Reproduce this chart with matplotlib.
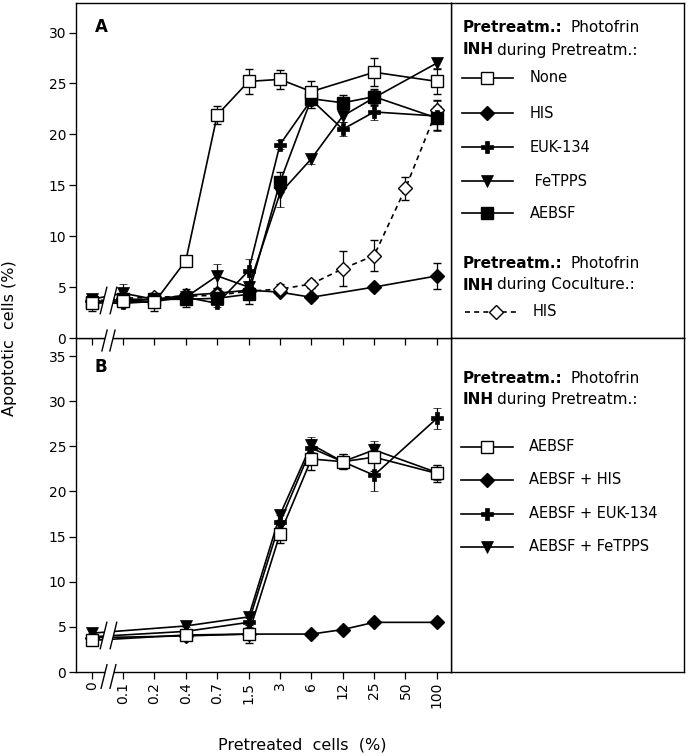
import numpy as np
import matplotlib
matplotlib.use("Agg")
import matplotlib.pyplot as plt
from matplotlib.path import Path
from matplotlib.markers import MarkerStyle

plt.rcParams['font.family'] = ['DejaVu Sans']

# ---------------- data ----------------
xcats = ['0', '0.1', '0.2', '0.4', '0.7', '1.5', '3', '6', '12', '25', '50', '100']

# Panel A
a_none_x = ['0', '0.1', '0.2', '0.4', '0.7', '1.5', '3', '6', '25', '100']
a_none_y = [3.4, 3.6, 3.5, 7.6, 21.9, 25.2, 25.4, 24.2, 26.1, 25.2]
a_none_e = [0.7, 0.5, 0.8, 0.4, 0.9, 1.2, 0.9, 1.0, 1.4, 1.2]

a_his_x = ['0', '0.1', '0.2', '0.4', '0.7', '1.5', '3', '6', '25', '100']
a_his_y = [3.6, 3.6, 3.8, 4.2, 4.4, 4.7, 4.5, 4.0, 5.0, 6.1]
a_his_e = [0.5, 0.6, 0.5, 0.6, 0.5, 0.6, 0.3, 0.3, 0.3, 1.3]

a_euk_x = ['0', '0.1', '0.2', '0.4', '0.7', '1.5', '3', '6', '12', '25', '100']
a_euk_y = [3.5, 3.4, 3.6, 4.0, 3.4, 6.6, 19.0, 23.4, 20.5, 22.2, 21.8]
a_euk_e = [0.5, 0.4, 0.4, 0.5, 0.4, 1.2, 0.4, 0.8, 0.7, 0.8, 1.5]

a_fet_x = ['0', '0.1', '0.2', '0.4', '0.7', '1.5', '3', '6', '12', '25', '100']
a_fet_y = [3.8, 4.4, 3.8, 4.0, 6.1, 5.0, 14.2, 17.6, 21.8, 23.6, 27.0]
a_fet_e = [0.5, 0.9, 0.5, 0.5, 1.2, 0.6, 1.3, 0.5, 0.6, 0.8, 0.5]

a_aeb_x = ['0', '0.1', '0.2', '0.4', '0.7', '1.5', '3', '6', '12', '25', '100']
a_aeb_y = [3.5, 3.8, 3.8, 3.8, 3.9, 4.3, 15.3, 23.5, 23.1, 23.7, 21.6]
a_aeb_e = [0.5, 0.5, 0.5, 0.8, 0.5, 1.0, 1.0, 0.9, 0.8, 0.8, 1.2]

a_coc_x = ['0', '0.1', '0.2', '0.4', '0.7', '1.5', '3', '6', '12', '25', '50', '100']
a_coc_y = [3.6, 3.9, 4.0, 4.1, 4.2, 4.6, 4.8, 5.3, 6.8, 8.1, 14.7, 22.4]
a_coc_e = [0.4, 0.4, 0.4, 0.4, 0.4, 0.5, 0.5, 0.4, 1.7, 1.5, 1.1, 1.0]

# Panel B
b_x = ['0', '0.4', '1.5', '3', '6', '12', '25', '100']
b_aeb_y = [3.5, 4.1, 4.2, 15.3, 23.6, 23.3, 23.8, 22.0]
b_aeb_e = [0.5, 0.4, 1.0, 1.0, 1.2, 0.8, 1.5, 0.9]

b_his_x = ['0', '0.4', '1.5', '6', '12', '25', '100']
b_his_y = [3.8, 4.0, 4.2, 4.2, 4.7, 5.5, 5.5]
b_his_e = [0.3, 0.3, 0.3, 0.3, 0.3, 0.3, 0.3]

b_euk_y = [3.9, 4.5, 5.5, 16.6, 24.8, 23.3, 21.8, 28.1]
b_euk_e = [0.4, 0.5, 0.5, 0.8, 1.0, 0.8, 1.7, 1.2]

b_fet_y = [4.3, 5.1, 6.1, 17.4, 25.2, 23.3, 24.6, 22.1]
b_fet_e = [0.4, 0.4, 0.4, 0.6, 0.8, 0.8, 1.0, 0.8]

legend_a1 = ['None', 'HIS', 'EUK-134', ' FeTPPS', 'AEBSF']
legend_a2 = ['HIS']
legend_b = ['AEBSF', 'AEBSF + HIS', 'AEBSF + EUK-134', 'AEBSF + FeTPPS']

# ---------------- figure ----------------
W, H = 688, 756
fig = plt.figure(figsize=(W / 100, H / 100), dpi=100)


def fr(x0, y0, x1, y1):
    return [x0 / W, 1 - y1 / H, (x1 - x0) / W, (y1 - y0) / H]


axB = fig.add_axes(fr(76, 338, 451, 672))
axA = fig.add_axes(fr(76, 3, 451, 338))
axA.set_zorder(3)
axB.set_zorder(1)

pos = {c: i for i, c in enumerate(xcats)}


def xp(labels):
    return [pos[c] for c in labels]


styles = {
    'none': dict(marker='s', ms=8, mfc='white', mec='black', mew=1.0),
    'his': dict(marker='D', ms=7.5, mfc='black', mec='black', mew=1.0),
    'euk': dict(marker='P', ms=9, mfc='black', mec='black', mew=0.5),
    'fet': dict(marker='v', ms=9, mfc='black', mec='black', mew=0.5),
    'aeb': dict(marker='s', ms=8, mfc='black', mec='black', mew=1.0),
    'coc': dict(marker='D', ms=7.5, mfc='white', mec='black', mew=1.0),
}
eb_kw = dict(ecolor='black', elinewidth=0.9, capsize=3.2, capthick=0.9, color='black', lw=1.2)


def series(ax, xl, y, e, st, ls='-'):
    ax.errorbar(xp(xl), y, yerr=e, linestyle=ls, **styles[st], **eb_kw)


series(axA, a_his_x, a_his_y, a_his_e, 'his')
series(axA, a_coc_x, a_coc_y, a_coc_e, 'coc', ls=(0, (3, 2.5)))
series(axA, a_euk_x, a_euk_y, a_euk_e, 'euk')
series(axA, a_fet_x, a_fet_y, a_fet_e, 'fet')
series(axA, a_aeb_x, a_aeb_y, a_aeb_e, 'aeb')
series(axA, a_none_x, a_none_y, a_none_e, 'none')

series(axB, b_his_x, b_his_y, b_his_e, 'his')
series(axB, b_x, b_euk_y, b_euk_e, 'euk')
series(axB, b_x, b_fet_y, b_fet_e, 'fet')
series(axB, b_x, b_aeb_y, b_aeb_e, 'none')

for ax, ymax, yt in ((axA, 32.9, np.arange(0, 31, 5)), (axB, 37.0, np.arange(0, 36, 5))):
    ax.set_xlim(-0.5, 11.45)
    ax.set_ylim(0, ymax)
    ax.set_yticks(yt)
    ax.set_xticks(range(len(xcats)))
    ax.tick_params(direction='out', length=5, width=0.9, labelsize=10, pad=2)
    for s in ax.spines.values():
        s.set_linewidth(1.0)

axA.set_xticklabels([])
axB.set_xticklabels(xcats, rotation=90)

axA.text(0.05, 0.955, 'A', transform=axA.transAxes, fontsize=12, fontweight='bold', va='top', ha='left')
axB.text(0.05, 0.94, 'B', transform=axB.transAxes, fontsize=12, fontweight='bold', va='top', ha='left',
         zorder=20)

# axis break marks
slash = Path([(-8.5, -14), (-1.5, 14), (1.5, -14), (8.5, 14)],
             [Path.MOVETO, Path.LINETO, Path.MOVETO, Path.LINETO])
mask = Path([(-8.5, -14), (-1.5, 14), (8.5, 14), (1.5, -14), (-8.5, -14)],
            [Path.MOVETO, Path.LINETO, Path.LINETO, Path.LINETO, Path.CLOSEPOLY])


def brk(ax, x, y, size=20):
    ax.plot([x], [y], marker=MarkerStyle(mask), ms=size, mfc='white', mew=0,
            ls='none', zorder=10, clip_on=False)
    ax.plot([x], [y], marker=MarkerStyle(slash), ms=size, mfc='none', mec='black', mew=1.0,
            ls='none', zorder=11, clip_on=False)


brk(axA, 0.53, 3.7)
brk(axA, 0.53, -0.2, size=16)
brk(axB, 0.53, 4.1)
brk(axB, 0.53, -0.45, size=18)

fig.text(10 / W, 1 - 338 / H, 'Apoptotic  cells (%)', rotation=90, ha='center', va='center', fontsize=11.5)
fig.text(302 / W, 1 - 745 / H, 'Pretreated  cells  (%)', ha='center', va='center', fontsize=11.5)

# ---------------- legend boxes ----------------
legA = fig.add_axes(fr(451, 3, 684, 338))
legB = fig.add_axes(fr(451, 338, 684, 672))
legA.set_xlim(451, 684); legA.set_ylim(338, 3)
legB.set_xlim(451, 684); legB.set_ylim(672, 338)
for lg in (legA, legB):
    lg.set_xticks([]); lg.set_yticks([])
    for s in lg.spines.values():
        s.set_linewidth(1.0)

FS = 11


def title(lg, y1, y2, second):
    lg.text(463, y1, 'Pretreatm.:', fontweight='bold', fontsize=FS, va='center')
    lg.text(571, y1, 'Photofrin', fontsize=FS, va='center')
    lg.text(463, y2, 'INH', fontweight='bold', fontsize=FS, va='center')
    lg.text(497, y2, second, fontsize=FS, va='center')


def entry(lg, y, st, label, x0=462, x1=513, xm=487, xt=530, ls='-'):
    lg.plot([x0, x1], [y, y], color='black', lw=1.2, ls=ls)
    lg.plot([xm], [y], ls='none', **styles[st])
    lg.text(xt, y, label, fontsize=10.5, va='center')


title(legA, 28, 50, 'during Pretreatm.:')
for y, st, lab in zip([78, 113, 147, 181, 213], ['none', 'his', 'euk', 'fet', 'aeb'], legend_a1):
    entry(legA, y, st, lab)
title(legA, 263, 285, 'during Coculture.:')
entry(legA, 312, 'coc', legend_a2[0], x0=465, x1=518, xm=496, xt=533, ls=(0, (3, 2.5)))

title(legB, 379, 400, 'during Pretreatm.:')
for y, st, lab in zip([447, 480, 514, 547], ['none', 'his', 'euk', 'fet'], legend_b):
    entry(legB, y, st, lab, x0=461, x1=513, xm=487, xt=529)

fig.savefig('out.png', dpi=100)
